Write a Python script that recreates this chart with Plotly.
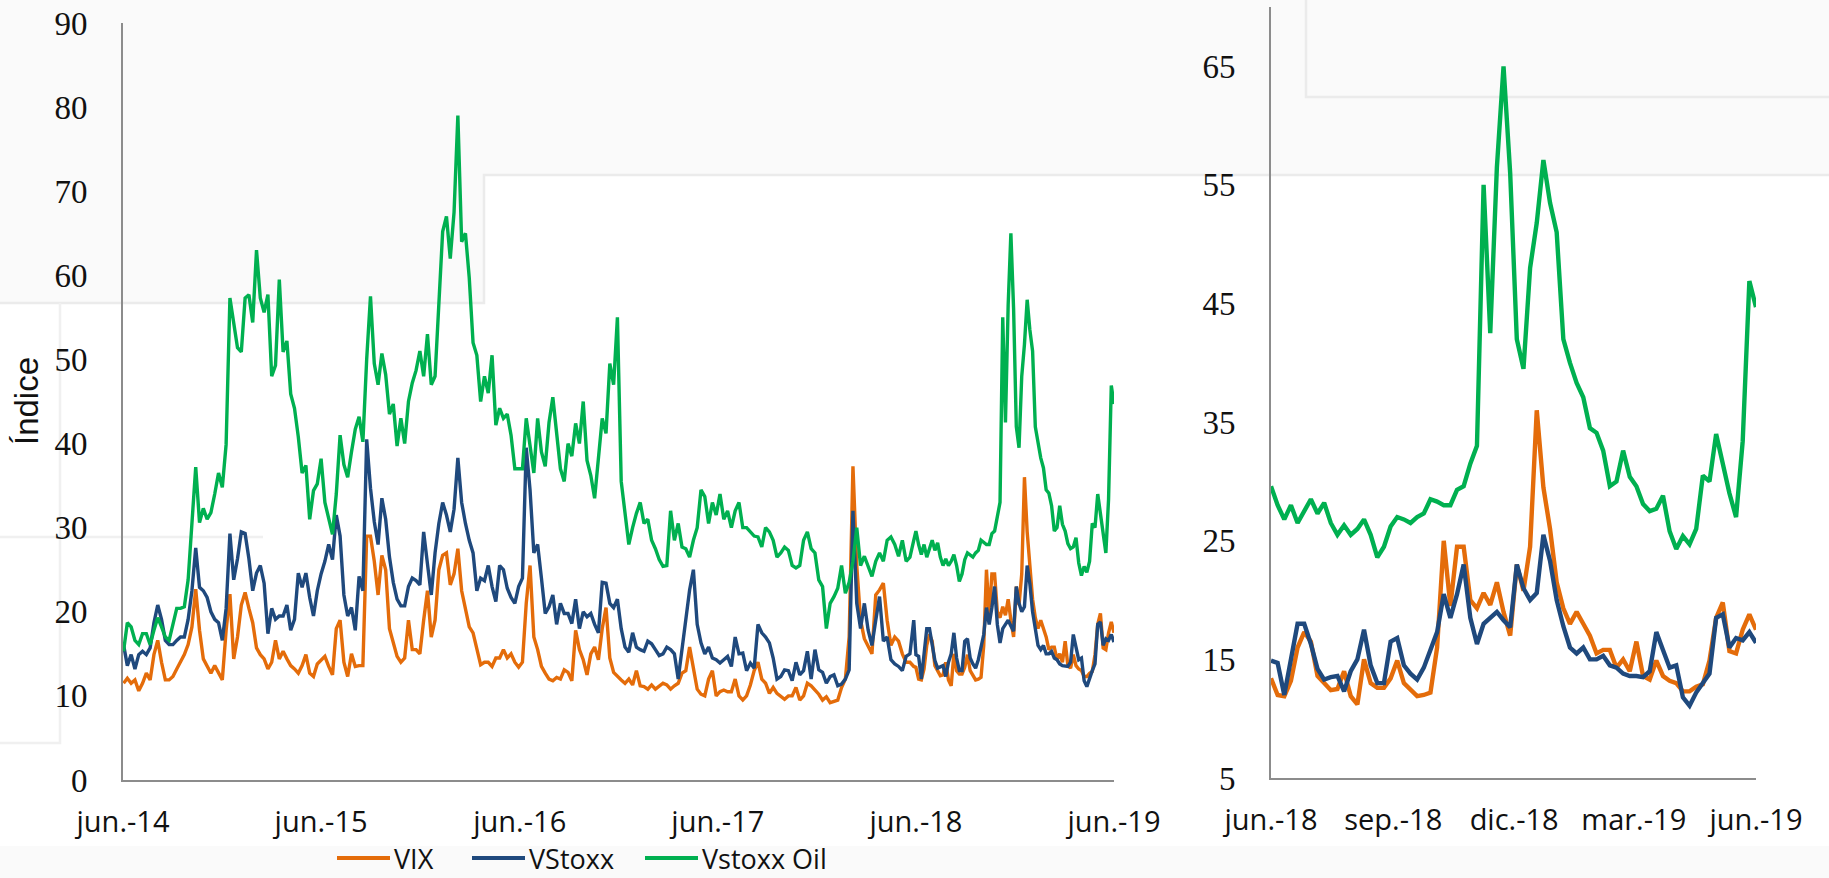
import pandas as pd
import plotly.graph_objects as go

W, H = 1829, 878

# ---- weekly readings, jun 2014 - may 2018 ----
weekly_dates = pd.date_range("2014-06-02", periods=209, freq="7D")

vix_weekly = [
    11.5, 12.1, 11.5, 11.9, 10.6, 11.5, 12.7, 11.9, 14.9, 16.6,
    14.0, 11.9, 11.9, 12.3, 13.2, 14.0, 14.9, 16.1, 18.2, 22.7,
    17.8, 14.4, 13.6, 12.7, 13.6, 12.7, 11.9, 17.8, 22.1, 14.4,
    17.0, 20.8, 22.3, 20.4, 18.7, 15.7, 14.9, 14.4, 13.2, 14.0,
    16.6, 14.4, 15.3, 14.4, 13.6, 13.2, 12.7, 13.6, 14.9, 12.7,
    12.3, 13.8, 14.2, 14.7, 13.5, 12.5, 18.0, 19.0, 14.0, 12.3,
    15.0, 13.5, 13.6, 13.6, 29.0, 29.0, 26.0, 22.0, 26.7, 25.0,
    18.0, 16.5, 14.7, 14.0, 14.5, 19.0, 15.5, 15.5, 15.0, 19.0,
    22.5, 17.0, 19.0, 25.0, 26.7, 27.0, 23.2, 24.5, 27.5, 22.5,
    20.5, 18.2, 17.5, 15.7, 13.7, 14.0, 14.0, 13.5, 14.5, 14.5,
    15.5, 14.5, 15.0, 14.0, 13.4, 14.0, 21.0, 25.5, 17.0, 15.5,
    13.5, 12.7, 12.0, 11.8, 12.2, 12.0, 13.1, 12.8, 11.8, 17.8,
    15.5, 14.3, 12.5, 15.0, 15.8, 14.3, 18.0, 20.5, 14.5, 12.8,
    12.3, 11.9, 11.5, 12.0, 11.3, 13.0, 11.2, 11.1, 10.8, 11.3,
    10.8, 11.1, 11.5, 11.3, 10.8, 11.2, 11.5, 12.7, 13.0, 15.8,
    13.5, 10.8, 10.2, 10.0, 12.0, 13.0, 10.0, 10.5, 10.7, 10.5,
    10.5, 12.0, 10.0, 9.5, 10.0, 11.3, 13.0, 14.0, 12.0, 11.5,
    10.3, 11.0, 10.3, 9.9, 9.6, 10.0, 10.0, 11.0, 9.5, 10.0,
    11.5, 11.2, 10.7, 10.2, 9.5, 9.9, 9.2, 9.3, 9.5, 11.0,
    12.0, 17.0, 37.3, 25.5, 19.0, 16.8, 16.0, 15.0, 22.0, 22.6,
    23.4, 19.0, 16.0, 17.0, 16.5, 15.0, 14.0, 14.0, 13.5,
]

vstoxx_weekly = [
    16.1, 13.6, 14.9, 13.2, 14.9, 15.3, 14.9, 15.7, 18.7, 20.8,
    19.1, 16.6, 16.1, 16.1, 16.6, 17.0, 17.0, 19.1, 22.5, 27.6,
    22.9, 22.5, 21.7, 20.0, 19.1, 18.7, 16.6, 20.4, 29.3, 23.8,
    26.3, 29.5, 29.3, 26.3, 22.5, 24.6, 25.5, 23.4, 17.4, 20.4,
    19.1, 19.5, 19.5, 20.8, 17.8, 19.1, 24.6, 22.9, 24.6, 21.7,
    19.5, 22.5, 24.5, 26.0, 28.0, 26.2, 31.5, 29.0, 22.0, 19.5,
    20.5, 17.8, 24.2, 22.5, 40.5, 34.7, 30.7, 28.0, 33.5, 31.0,
    26.5, 23.5, 21.5, 20.7, 20.7, 23.0, 24.0, 23.7, 23.2, 29.5,
    25.7, 22.0, 27.0, 30.5, 33.0, 31.5, 29.5, 32.2, 38.3, 33.0,
    30.5, 28.5, 27.0, 22.5, 24.0, 23.7, 25.5, 23.0, 21.2, 25.5,
    25.0, 22.8, 21.7, 21.0, 23.0, 24.0, 39.5, 34.5, 27.0, 28.0,
    24.0, 19.8, 20.6, 22.0, 18.5, 21.0, 19.8, 19.8, 18.6, 21.5,
    18.0, 20.0, 19.4, 19.8, 18.5, 17.5, 23.5, 23.4, 21.0, 20.5,
    21.5, 18.0, 15.8, 15.2, 17.5, 15.8, 15.5, 15.3, 16.5, 16.2,
    15.5, 14.8, 15.0, 15.8, 15.5, 15.0, 12.0, 15.5, 19.0, 22.6,
    25.0, 18.5, 16.3, 15.0, 15.8, 14.5, 14.3, 13.9, 14.3, 14.7,
    13.5, 17.0, 15.0, 15.1, 13.0, 13.9, 13.3, 18.5, 17.5, 17.0,
    16.3, 14.5, 12.0, 12.3, 13.1, 13.0, 11.8, 14.0, 12.5, 13.0,
    15.3, 12.0, 15.5, 13.1, 12.8, 11.5, 12.3, 12.5, 11.2, 11.4,
    12.0, 13.1, 32.0, 21.0, 18.0, 21.0, 17.8, 16.0, 19.0, 21.8,
    16.5, 17.0, 14.3, 13.8, 13.5, 13.0, 14.7, 15.0, 19.0,
]

oil_weekly = [
    15.3, 18.7, 18.2, 16.6, 16.1, 17.4, 17.4, 16.1, 17.8, 19.3,
    18.2, 17.0, 16.6, 18.7, 20.4, 20.4, 20.6, 23.8, 30.6, 37.2,
    30.6, 32.3, 31.0, 31.8, 34.0, 36.5, 34.8, 39.9, 57.3, 54.4,
    51.4, 50.9, 57.3, 57.7, 54.4, 63.0, 57.3, 55.6, 57.7, 48.0,
    49.3, 59.5, 50.9, 52.2, 45.9, 44.2, 40.8, 36.5, 37.4, 31.0,
    34.4, 35.2, 38.2, 33.0, 31.0, 29.2, 34.0, 41.0, 37.5, 36.0,
    39.0, 41.7, 43.2, 40.2, 50.0, 57.5, 49.5, 47.0, 50.7, 48.2,
    43.5, 44.7, 39.7, 43.0, 40.0, 45.0, 47.2, 48.7, 51.0, 48.0,
    53.0, 47.0, 48.0, 56.0, 65.2, 67.0, 62.0, 67.5, 79.0, 64.0,
    65.0, 59.7, 52.0, 50.5, 45.0, 48.0, 46.0, 50.5, 42.2, 44.2,
    43.0, 43.5, 41.0, 37.0, 37.0, 37.0, 43.0, 40.0, 36.5, 43.0,
    39.0, 37.3, 42.5, 45.5, 41.0, 37.0, 35.5, 40.0, 38.5, 42.4,
    40.0, 45.0, 38.0, 36.2, 33.5, 38.5, 43.0, 41.2, 49.5, 47.0,
    55.0, 35.5, 32.0, 28.0, 30.0, 31.7, 33.0, 30.5, 31.0, 28.5,
    27.5, 26.2, 25.4, 25.5, 32.0, 28.5, 30.5, 27.7, 27.5, 26.5,
    28.5, 30.0, 34.5, 33.7, 30.5, 33.0, 31.5, 34.0, 31.0, 32.0,
    30.0, 32.0, 33.0, 30.0, 30.0, 29.5, 29.0, 28.9, 27.7, 30.0,
    29.5, 28.5, 26.5, 27.0, 27.7, 27.3, 25.5, 25.2, 25.5, 28.5,
    29.5, 27.5, 27.0, 23.8, 23.0, 18.0, 21.0, 21.8, 22.8, 25.5,
    22.2, 23.5, 26.0, 30.0, 25.5, 26.6, 25.4, 24.2, 26.0, 27.0,
    26.0, 28.5, 28.9, 28.0, 26.6, 28.5, 26.0, 26.5, 28.5,
]

# ---- five-day readings, jun 2018 - may 2019 ----
recent_dates = pd.date_range("2018-06-01", periods=74, freq="5D")

vix_recent = [
    13.4, 12.0, 11.9, 13.2, 16.0, 17.3, 16.5, 13.6, 13.0, 12.4,
    12.5, 14.0, 11.9, 11.2, 15.0, 13.0, 12.6, 12.6, 13.4, 14.9,
    13.0, 12.5, 11.9, 12.0, 12.2, 16.0, 25.0, 19.5, 24.5, 24.5,
    20.0, 19.3, 20.6, 19.6, 21.5, 19.0, 17.0, 23.0, 20.8, 24.5,
    36.0, 29.5, 26.0, 21.5, 19.3, 18.0, 19.0, 18.0, 17.0, 15.5,
    15.8, 15.8, 14.3, 15.0, 14.0, 16.5, 13.6, 13.3, 14.9, 13.6,
    13.2, 13.0, 12.3, 12.3, 12.7, 12.9, 14.9, 18.5, 19.8, 15.7,
    15.5, 17.5, 18.8, 17.5,
]

vstoxx_recent = [
    14.9, 14.7, 12.0, 15.0, 18.0, 18.0, 16.3, 14.2, 13.3, 13.5,
    13.6, 12.3, 14.0, 15.0, 17.5, 14.5, 13.0, 13.0, 16.5, 16.8,
    14.5, 13.8, 13.3, 14.3, 15.8, 17.3, 20.5, 18.5, 20.5, 23.0,
    18.5, 16.3, 18.0, 18.5, 19.0, 18.3, 17.7, 23.0, 21.0, 20.0,
    20.6, 25.5, 23.3, 20.0, 17.8, 16.0, 15.5, 16.0, 15.0, 15.0,
    15.3, 14.5, 14.3, 13.8, 13.6, 13.6, 13.5, 14.0, 17.3, 15.8,
    14.3, 14.5, 11.8, 11.1, 12.2, 13.0, 13.8, 18.5, 18.8, 16.0,
    16.8, 16.6, 17.3, 16.4,
]

oil_recent = [
    29.6, 28.0, 26.8, 28.0, 26.5, 27.5, 28.5, 27.3, 28.2, 26.5,
    25.5, 26.3, 25.5, 26.0, 26.8, 25.5, 23.6, 24.5, 26.2, 27.0,
    26.8, 26.5, 27.0, 27.3, 28.5, 28.3, 28.0, 28.0, 29.3, 29.6,
    31.5, 33.0, 55.0, 42.5, 56.5, 65.0, 56.0, 42.0, 39.5, 48.0,
    51.8, 57.1, 53.5, 51.0, 42.0, 40.0, 38.3, 37.1, 34.5, 34.1,
    32.6, 29.6, 30.0, 32.6, 30.4, 29.6, 28.1, 27.5, 27.7, 28.8,
    25.8, 24.3, 25.4, 24.7, 26.0, 30.5, 30.0, 34.0, 31.5, 29.0,
    27.0, 33.4, 46.9, 44.7,
]

# ---- axis labels ----
left_tick_dates = ["2014-06-01", "2015-06-01", "2016-06-01",
                   "2017-06-01", "2018-06-01", "2019-06-01"]
left_tick_text = ["jun.-14", "jun.-15", "jun.-16", "jun.-17", "jun.-18", "jun.-19"]
right_tick_dates = ["2018-06-01", "2018-09-01", "2018-12-01", "2019-03-01", "2019-06-01"]
right_tick_text = ["jun.-18", "sep.-18", "dic.-18", "mar.-19", "jun.-19"]

names = ["VIX", "VStoxx", "Vstoxx Oil"]
colors = ["#E46C0A", "#1F497D", "#00B050"]

all_dates = list(weekly_dates) + list(recent_dates)
full_series = [vix_weekly + vix_recent,
               vstoxx_weekly + vstoxx_recent,
               oil_weekly + oil_recent]
recent_series = [vix_recent, vstoxx_recent, oil_recent]

fig = go.Figure()
for name, color, ys in zip(names, colors, full_series):
    fig.add_trace(go.Scatter(x=all_dates, y=ys, name=name, mode="lines",
                             line=dict(color=color, width=3.4),
                             xaxis="x", yaxis="y", showlegend=False))
for name, color, ys in zip(names, colors, recent_series):
    fig.add_trace(go.Scatter(x=list(recent_dates), y=ys, name=name, mode="lines",
                             line=dict(color=color, width=4.4),
                             xaxis="x2", yaxis="y2", showlegend=False))


def px(x):
    return x / W


def py(y):
    return 1 - y / H


axis_line = "#8c8c8c"
sans = "Open Sans"
serif = "Liberation Serif"

xcommon = dict(showline=True, linecolor=axis_line, linewidth=2, ticks="",
               showgrid=False, zeroline=False, automargin=False,
               tickfont=dict(family=sans, size=29, color="#111111"),
               ticklabelstandoff=15)
ycommon = dict(showline=True, linecolor=axis_line, linewidth=2, ticks="",
               showgrid=False, zeroline=False, automargin=False,
               tickfont=dict(family=serif, size=33, color="#111111"),
               ticklabelstandoff=27)

# faint page decoration behind the panels
deco_fill = "#fafafa"
deco_line = "#ebebeb"
shapes = [
    dict(type="rect", xref="paper", yref="paper", x0=0, x1=px(484), y0=py(303), y1=1,
         fillcolor=deco_fill, line_width=0, layer="below"),
    dict(type="rect", xref="paper", yref="paper", x0=px(484), x1=1, y0=py(175), y1=1,
         fillcolor=deco_fill, line_width=0, layer="below"),
    dict(type="rect", xref="paper", yref="paper", x0=0, x1=1, y0=0, y1=py(846),
         fillcolor=deco_fill, line_width=0, layer="below"),
    dict(type="path", xref="paper", yref="paper",
         path=f"M 0 {py(303)} L {px(484)} {py(303)} L {px(484)} {py(175)} L 1 {py(175)}",
         line=dict(color=deco_line, width=2.5), layer="below"),
    dict(type="path", xref="paper", yref="paper",
         path=f"M {px(1306)} 1 L {px(1306)} {py(97)} L 1 {py(97)}",
         line=dict(color=deco_line, width=2.5), layer="below"),
    dict(type="path", xref="paper", yref="paper",
         path=f"M 0 {py(537)} L {px(263)} {py(537)}",
         line=dict(color="#f0f0f0", width=2.5), layer="below"),
    dict(type="path", xref="paper", yref="paper",
         path=f"M {px(60)} {py(303)} L {px(60)} {py(743)} L 0 {py(743)}",
         line=dict(color="#f0f0f0", width=2.5), layer="below"),
]

# legend keys below the left panel
legend_y = py(858)
legend_starts = [337, 472, 645]
annotations = [
    dict(text="Índice", xref="paper", yref="paper", x=px(27), y=py(401),
         showarrow=False, textangle=-90, xanchor="center", yanchor="middle",
         font=dict(family="Liberation Sans", size=33, color="#111111")),
]
for name, color, x0 in zip(names, colors, legend_starts):
    shapes.append(dict(type="line", xref="paper", yref="paper",
                       x0=px(x0), x1=px(x0 + 53), y0=legend_y, y1=legend_y,
                       line=dict(color=color, width=4)))
    annotations.append(dict(text=name, xref="paper", yref="paper",
                            x=px(x0 + 55), y=legend_y, showarrow=False,
                            xanchor="left", yanchor="middle",
                            font=dict(family=sans, size=27, color="#111111")))

fig.update_layout(
    width=W, height=H, autosize=False,
    template="none",
    margin=dict(l=0, r=0, t=0, b=0),
    paper_bgcolor="#ffffff",
    plot_bgcolor="rgba(0,0,0,0)",
    font=dict(family=sans, color="#111111"),
    xaxis=dict(xcommon, domain=[px(123), px(1114)], anchor="y", type="date",
               range=["2014-06-01", "2019-06-01"],
               tickmode="array", tickvals=left_tick_dates, ticktext=left_tick_text),
    yaxis=dict(ycommon, domain=[py(780), py(23)], anchor="x",
               range=[0, 90], tickmode="linear", tick0=0, dtick=10),
    xaxis2=dict(xcommon, domain=[px(1271), px(1756)], anchor="y2", type="date",
                range=["2018-06-01", "2019-06-01"],
                tickmode="array", tickvals=right_tick_dates, ticktext=right_tick_text),
    yaxis2=dict(ycommon, domain=[py(778), py(7)], anchor="x2",
                range=[5, 70], tickmode="array", tickvals=[5, 15, 25, 35, 45, 55, 65]),
    showlegend=False,
    shapes=shapes,
    annotations=annotations,
)

fig.write_html("out.html")
